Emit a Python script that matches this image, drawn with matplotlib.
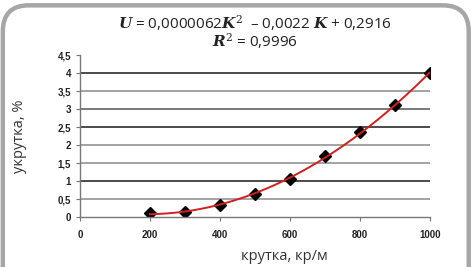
import matplotlib.pyplot as plt
import numpy as np
from matplotlib.patches import FancyBboxPatch
from matplotlib.ticker import FuncFormatter

# data
twist = [200, 300, 400, 500, 600, 700, 800, 900, 1000]      # крутка, кр/м
shrink = [0.1, 0.15, 0.33, 0.65, 1.05, 1.7, 2.35, 3.1, 4.0]  # укрутка, %

xticks = [0, 200, 400, 600, 800, 1000]
yticks = [0, 0.5, 1, 1.5, 2, 2.5, 3, 3.5, 4, 4.5]

plt.rcParams['mathtext.fontset'] = 'dejavuserif'

fig = plt.figure(figsize=(4.73, 2.67), dpi=100)

# rounded grey frame, open at the bottom
frame = FancyBboxPatch((0.006, -0.2), 0.985, 1.18, transform=fig.transFigure,
                       boxstyle="round,pad=0,rounding_size=0.055",
                       mutation_aspect=473/267,
                       fc='white', ec='#a6a6a6', lw=3.2, zorder=-5)
fig.patches.append(frame)

ax = fig.add_axes([0.169, 0.187, 0.740, 0.607])
ax.set_facecolor('none')
ax.set_xlim(0, 1000)
ax.set_ylim(0, 4.5)

# grid lines as they look in the scan: some dark, some grey
grid_cols = ['#8a8a8a', '#1a1a1a', '#8a8a8a', '#8a8a8a', '#1a1a1a', '#555555', '#8a8a8a', '#1a1a1a']
for v, c in zip(yticks[1:-1], grid_cols):
    ax.axhline(v, color=c, lw=1.1, zorder=1)

# trend line (2nd order polynomial)
coef = np.polyfit(twist, shrink, 2)
kk = np.linspace(200, 1000, 200)
ax.plot(kk, np.polyval(coef, kk), color='#d02020', lw=1.4, zorder=3)
ax.plot(twist, shrink, 'D', color='black', ms=6, zorder=2)

ax.set_xticks(xticks)
ax.set_yticks(yticks)
fmt = FuncFormatter(lambda v, p: ('%g' % v).replace('.', ','))
ax.xaxis.set_major_formatter(fmt)
ax.yaxis.set_major_formatter(fmt)
for s in ['top', 'right']:
    ax.spines[s].set_visible(False)
for s in ['left', 'bottom']:
    ax.spines[s].set_color('#777777')
    ax.spines[s].set_linewidth(1.0)
ax.tick_params(axis='both', direction='out', length=3, width=0.8, color='#777777',
               labelsize=7, labelcolor='#222222')
ax.tick_params(axis='x', pad=6)
for lab in ax.get_xticklabels() + ax.get_yticklabels():
    lab.set_fontweight('bold')
    lab.set_family('Liberation Sans')

ax.set_xlabel('крутка, кр/м', fontsize=10.5, family='Open Sans', color='#333333')
ax.xaxis.set_label_coords(0.585, -0.2)
ax.set_ylabel('укрутка, %', fontsize=10.5, family='Open Sans', color='#333333')
ax.yaxis.set_label_coords(-0.15, 0.5)

fig.text(0.54, 0.915, r'$\mathbfit{U}$ = 0,0000062$\mathbfit{K}^{2}$  – 0,0022 $\mathbfit{K}$ + 0,2916',
         ha='center', va='center', fontsize=11, family='Open Sans', color='#222222')
fig.text(0.54, 0.845, r'$\mathbfit{R}^{2}$ = 0,9996',
         ha='center', va='center', fontsize=11, family='Open Sans', color='#222222')

fig.savefig('out.png', dpi=100)
